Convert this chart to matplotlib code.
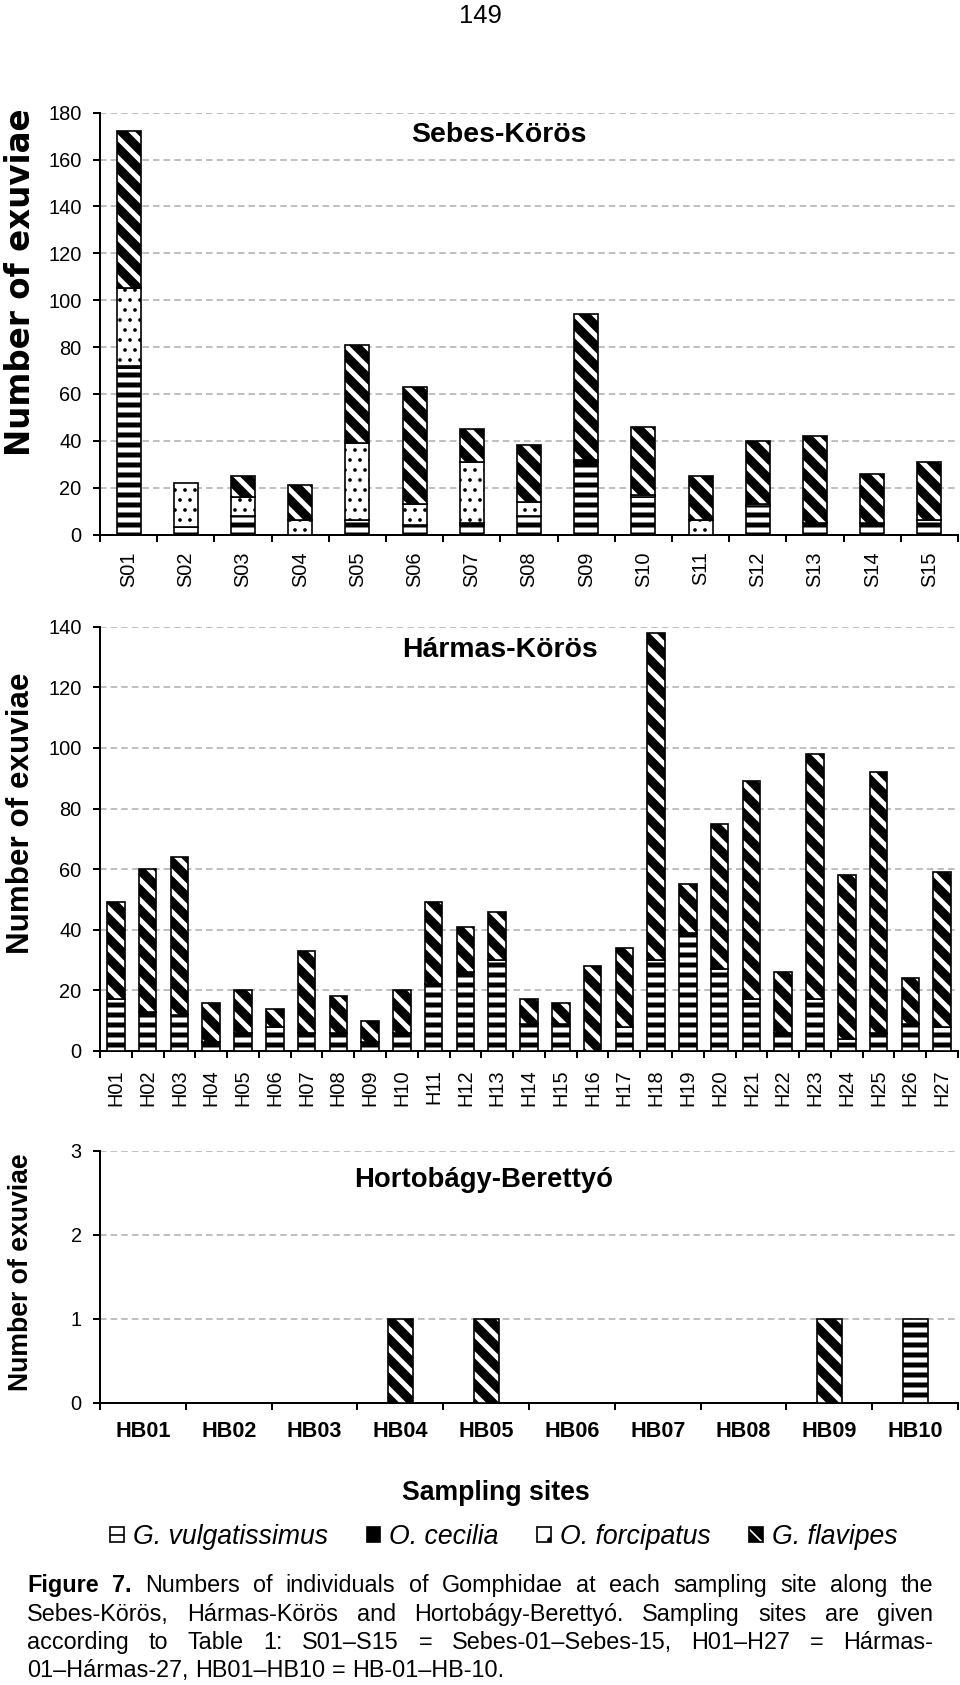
"""Gomphidae exuviae per sampling site: three stacked bar panels (Sebes-, Hármas-Körös, Hortobágy-Berettyó)."""
import matplotlib
matplotlib.use("Agg")
import matplotlib.pyplot as plt
import numpy as np
from matplotlib.patches import Patch

plt.rcParams['font.family'] = ['Liberation Sans', 'DejaVu Sans']

# ---- data ----
sebes_sites = [f"S{i:02d}" for i in range(1, 16)]
sebes_vulg = [71, 3, 8, 0, 6, 4, 4, 8, 31, 16, 0, 12, 5, 5, 6]
sebes_cec = [1, 0, 0, 0, 0, 0, 1, 0, 1, 0, 0, 0, 0, 0, 0]
sebes_forc = [33, 19, 8, 6, 33, 9, 26, 6, 0, 1, 6, 1, 0, 0, 0]
sebes_flav = [67, 0, 9, 15, 42, 50, 14, 24, 62, 29, 19, 27, 37, 21, 25]

harmas_sites = [f"H{i:02d}" for i in range(1, 28)]
harmas_vulg = [17, 13, 12, 3, 6, 8, 6, 6, 3, 6, 22, 26, 30, 9, 9, 0, 8, 30, 39, 27, 17, 6, 17, 4, 6, 9, 8]
harmas_cec = [0] * 27
harmas_forc = [0] * 27
harmas_flav = [32, 47, 52, 13, 14, 6, 27, 12, 7, 14, 27, 15, 16, 8, 7, 28, 26, 108, 16, 48, 72, 20, 81, 54, 86, 15, 51]

hb_sites = [f"HB{i:02d}" for i in range(1, 11)]
hb_vulg = [0, 0, 0, 0, 0, 0, 0, 0, 0, 1]
hb_cec = [0] * 10
hb_forc = [0] * 10
hb_flav = [0, 0, 0, 1, 1, 0, 0, 0, 1, 0]

species = ["G. vulgatissimus", "O. cecilia", "O. forcipatus", "G. flavipes"]

caption_lines = [
    "Figure 7. Numbers of individuals of Gomphidae at each sampling site along the",
    "Sebes-Körös, Hármas-Körös and Hortobágy-Berettyó. Sampling sites are given",
    "according to Table 1: S01–S15 = Sebes-01–Sebes-15, H01–H27 = Hármas-",
    "01–Hármas-27, HB01–HB10 = HB-01–HB-10.",
]

W, H, DPI = 960, 1685, 120
fig = plt.figure(figsize=(W / DPI, H / DPI), dpi=DPI)

FLAV_HATCH = '\\\\'
FORC_HATCH = '..'


def fx(px):
    return px / W


def fy(py):
    return 1 - py / H


def hatched_bar(ax, x, vals, base, width, hlw, **kw):
    m = vals > 0
    if not m.any():
        return
    with plt.rc_context({'hatch.linewidth': hlw}):
        bars = ax.bar(x[m], vals[m], width, bottom=base[m], zorder=3, **kw)
    for p in bars:
        if hasattr(p, 'set_hatch_linewidth'):
            p.set_hatch_linewidth(hlw)


def draw_stack(ax, vulg, cec, forc, flav, width):
    x = np.arange(len(vulg))
    base = np.zeros(len(vulg))
    vulg, cec, forc, flav = (np.asarray(v, float) for v in (vulg, cec, forc, flav))
    hatched_bar(ax, x, vulg, base, width, 3.0, color='white', edgecolor='black', hatch='--', linewidth=1.0)
    base = base + vulg
    hatched_bar(ax, x, cec, base, width, 1.0, color='black', edgecolor='black', linewidth=1.0)
    base = base + cec
    hatched_bar(ax, x, forc, base, width, 1.0, color='white', edgecolor='black', hatch=FORC_HATCH, linewidth=1.0)
    base = base + forc
    hatched_bar(ax, x, flav, base, width, 3.0, color='black', edgecolor='white', hatch=FLAV_HATCH, linewidth=0)
    hatched_bar(ax, x, flav, base, width, 1.0, fill=False, edgecolor='black', linewidth=1.0)


def panel(top, bottom, sites, data, ymax, ystep, width, rot, xfs, xweight, xpad):
    left, right = 100, 958
    ax = fig.add_axes([fx(left), fy(bottom), (right - left) / W, (bottom - top) / H])
    n = len(sites)
    draw_stack(ax, *data, width)
    ax.set_xlim(-0.5, n - 0.5)
    ax.set_ylim(0, ymax)
    ax.set_yticks(np.arange(0, ymax + 1, ystep))
    ax.grid(axis='y', color='#c0c0c0', linestyle=(0, (3.3, 2)), linewidth=1.2)
    ax.set_axisbelow(True)
    for s in ('top', 'right'):
        ax.spines[s].set_visible(False)
    for s in ('left', 'bottom'):
        ax.spines[s].set_linewidth(1.2)
    ax.set_xticks(np.arange(n))
    ax.set_xticklabels(sites, rotation=rot, fontsize=xfs, fontweight=xweight)
    ax.set_xticks(np.arange(-0.5, n), minor=True)
    ax.tick_params(axis='x', which='major', length=0, pad=xpad)
    ax.tick_params(axis='x', which='minor', length=4, width=1.2, direction='out')
    ax.tick_params(axis='y', length=4, width=1.2, pad=7, labelsize=12)
    return ax


ax1 = panel(112.7, 534.5, sebes_sites, (sebes_vulg, sebes_cec, sebes_forc, sebes_flav),
            180, 20, 0.42, 90, 12, 'normal', 10)
ax2 = panel(626.7, 1051, harmas_sites, (harmas_vulg, harmas_cec, harmas_forc, harmas_flav),
            140, 20, 0.55, 90, 12, 'normal', 11)
ax3 = panel(1151, 1402.7, hb_sites, (hb_vulg, hb_cec, hb_forc, hb_flav),
            3, 1, 0.29, 0, 13, 'bold', 11)

# panel titles
fig.text(fx(499), fy(141.7), "Sebes-Körös", fontsize=17, fontweight='bold', ha='center', va='baseline')
fig.text(fx(500), fy(656.7), "Hármas-Körös", fontsize=17, fontweight='bold', ha='center', va='baseline')
fig.text(fx(484), fy(1186.7), "Hortobágy-Berettyó", fontsize=16.5, fontweight='bold', ha='center', va='baseline')

# y labels (each chart was pasted at its own scale, the top one in a wider face)
ylab_specs = [(282, 19.5, ['DejaVu Sans']), (813, 18.8, ['Liberation Sans']), (1272, 16, ['Liberation Sans'])]
for yc, fs, fam in ylab_specs:
    fig.text(fx(21), fy(yc), "Number of exuviae", fontsize=fs, fontweight='bold', family=fam,
             rotation=90, ha='center', va='center')

fig.text(fx(480), fy(23), "149", fontsize=15.4, ha='center', va='baseline')
fig.text(fx(496), fy(1493), "Sampling sites", fontsize=16, fontweight='bold', ha='center', va='center')

# legend
handles = [
    Patch(facecolor='white', edgecolor='black', hatch='--'),
    Patch(facecolor='black', edgecolor='black'),
    Patch(facecolor='white', edgecolor='black', hatch='.'),
    (Patch(facecolor='black', edgecolor='white', hatch=FLAV_HATCH, linewidth=0),
     Patch(fill=False, edgecolor='black')),
]
fig.legend(handles, species, loc='center', bbox_to_anchor=(fx(504), fy(1537)), ncol=4,
           frameon=False, prop={'style': 'italic', 'size': 16}, handlelength=0.5,
           handleheight=0.5, handletextpad=0.35, columnspacing=1.45, borderpad=0)

# caption, justified
renderer = fig.canvas.get_renderer()
cap_fs = 14
x0, x1 = 27, 933
probe_a = fig.text(0, 0, "a a", fontsize=cap_fs)
probe_b = fig.text(0, 0, "aa", fontsize=cap_fs)
space_w = probe_a.get_window_extent(renderer).width - probe_b.get_window_extent(renderer).width
probe_a.remove()
probe_b.remove()
for li, (line, yb) in enumerate(zip(caption_lines, (1592, 1621, 1649, 1677))):
    words = line.split(" ")
    texts = []
    for wi, w in enumerate(words):
        bold = li == 0 and wi < 2
        texts.append(fig.text(0, fy(yb), w, fontsize=cap_fs, fontweight='bold' if bold else 'normal',
                              va='baseline'))
    widths = [t.get_window_extent(renderer).width for t in texts]
    if li < len(caption_lines) - 1:
        gap = (x1 - x0 - sum(widths)) / (len(words) - 1)
    else:
        gap = space_w
    xx = x0
    for t, wd in zip(texts, widths):
        t.set_x(fx(xx))
        xx += wd + gap

fig.savefig("out.png", dpi=DPI)
